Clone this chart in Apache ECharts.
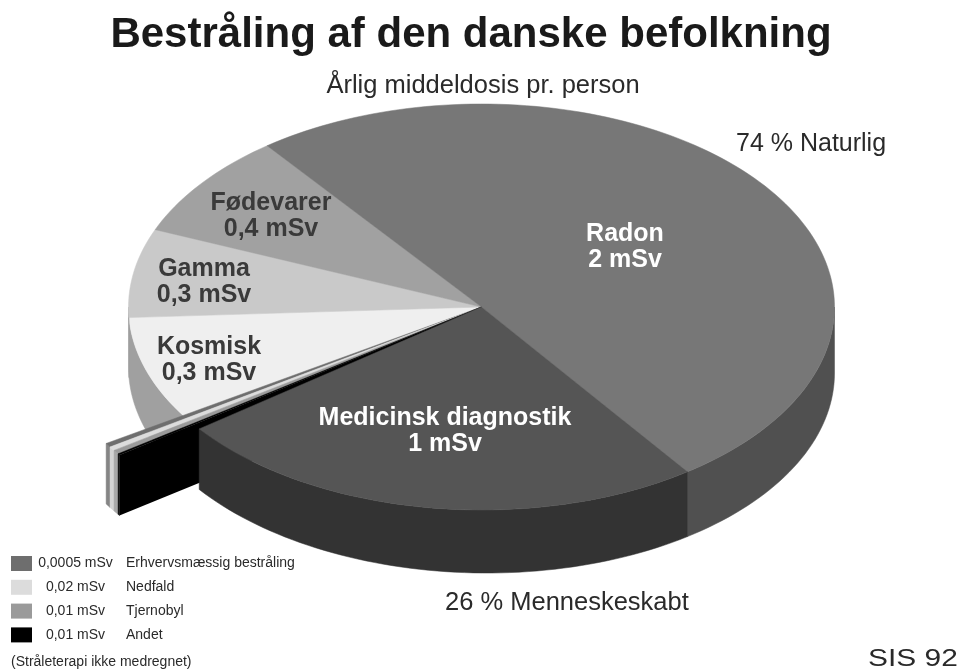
<!DOCTYPE html>
<html>
<head>
    <meta charset="utf-8">
    <title>Bestråling af den danske befolkning</title>
    <script src="https://cdn.jsdelivr.net/npm/echarts@6/dist/echarts.min.js"></script>
    <style>html, body { margin: 0; background: #fff; }</style>
</head>
<body>
    <div id="main" style="width:970px; height:670px;"></div>
    <script type="text/javascript">
    // Slices in drawing order, sweep = degrees
    var sliceNames = ['Kosmisk', 'Gamma', 'Fødevarer', 'Radon', 'Erhvervsmæssig bestråling', 'Nedfald', 'Tjernobyl', 'Andet', 'Medicinsk diagnostik'];
    var sliceSweeps = [29.3, 25.4, 30.2, 181.7, 0.93, 0.93, 0.93, 0.3, 88.8];
    var sliceDoses = ['0,3 mSv', '0,3 mSv', '0,4 mSv', '2 mSv', '0,0005 mSv', '0,02 mSv', '0,01 mSv', '0,01 mSv', '1 mSv'];
    var sliceColors = ['#efefef', '#c9c9c9', '#a1a1a1', '#777777', '#6e6e6e', '#dcdcdc', '#9a9a9a', '#000000', '#555555'];
    var wallColors = ['#a0a0a0', '#a0a0a0', '#a1a1a1', '#505050', '#858585', '#d4d4d4', '#a8a8a8', '#000000', '#333333'];
    var labelColors = ['#3a3a3a', '#3a3a3a', '#3a3a3a', '#ffffff', null, null, null, null, '#ffffff'];
    // Small slices pulled out of the pie, as a factor of the radius
    var sliceReach = [1, 1, 1, 1, 1.258, 1.258, 1.258, 1.258, 1];
    var legendNames = ['Erhvervsmæssig bestråling', 'Nedfald', 'Tjernobyl', 'Andet'];

    var CX = 481.5, CY = 307, RX = 353, RY = 203;
    var START_ANGLE = 147.7; // screen clockwise from east, where Kosmisk starts
    var labelPos = {
        'Kosmisk': [209, 360], 'Gamma': [204, 282], 'Fødevarer': [271, 216],
        'Radon': [625, 247], 'Medicinsk diagnostik': [445, 431]
    };

    // start angle of each slice. Slivers run backwards from where Kosmisk starts
    var starts = {};
    (function () {
        var a = START_ANGLE;
        ['Kosmisk', 'Gamma', 'Fødevarer', 'Radon'].forEach(function (n) {
            starts[n] = a;
            a += sliceSweeps[sliceNames.indexOf(n)];
        });
        starts['Medicinsk diagnostik'] = a - 360;
        a = START_ANGLE;
        ['Erhvervsmæssig bestråling', 'Nedfald', 'Tjernobyl', 'Andet'].forEach(function (n) {
            a -= sliceSweeps[sliceNames.indexOf(n)];
            starts[n] = a;
        });
    })();

    function rim(deg, reach, drop) {
        var r = deg * Math.PI / 180;
        return [CX + RX * reach * Math.cos(r), CY + RY * reach * Math.sin(r) + (drop || 0)];
    }
    function depth(deg) {
        return 60 + 3 * (Math.cos(deg * Math.PI / 180) + 1);
    }
    function arc(a0, a1, reach, dropped) {
        var pts = [], n = Math.max(2, Math.ceil(Math.abs(a1 - a0) / 1.5));
        for (var i = 0; i <= n; i++) {
            var a = a0 + (a1 - a0) * i / n;
            pts.push(rim(a, reach, dropped ? depth(a) : 0));
        }
        return pts;
    }
    // the part of [a0, a1] on the front half, where the wall can be seen
    function frontParts(a0, a1) {
        var parts = [];
        for (var k = -1; k <= 1; k++) {
            var lo = Math.max(a0, k * 360), hi = Math.min(a1, k * 360 + 180);
            if (hi > lo) parts.push([lo, hi]);
        }
        return parts;
    }

    function renderSlice(params, api) {
        var i = api.value(0);
        var a0 = starts[sliceNames[i]];
        var a1 = a0 + api.value(1);
        var reach = sliceReach[i];
        var kids = [];
        frontParts(a0, a1).forEach(function (p) {
            kids.push({
                type: 'polygon',
                shape: { points: arc(p[0], p[1], reach, false).concat(arc(p[1], p[0], reach, true)) },
                style: { fill: wallColors[i], stroke: wallColors[i], lineWidth: 0.5 }
            });
        });
        // Andet also shows its flat cut side below the pie
        if (sliceNames[i] === 'Andet') {
            kids.push({
                type: 'polygon',
                shape: { points: [[CX, CY], rim(a0, reach), rim(a0, reach, depth(a0)), [CX, CY + depth(a0)]] },
                style: { fill: wallColors[i] }
            });
        }
        kids.push({
            type: 'polygon',
            shape: { points: [[CX, CY]].concat(arc(a0, a1, reach, false)) },
            style: { fill: sliceColors[i], stroke: sliceColors[i], lineWidth: 0.5 }
        });
        var pos = labelPos[sliceNames[i]];
        if (pos) {
            kids.push({
                type: 'text',
                z2: 10,
                style: {
                    x: pos[0], y: pos[1],
                    text: sliceNames[i] + '\n' + sliceDoses[i],
                    fill: labelColors[i],
                    font: 'bold 25px "Liberation Sans", Arial, sans-serif',
                    lineHeight: 26,
                    align: 'center',
                    verticalAlign: 'middle'
                }
            });
        }
        return { type: 'group', children: kids };
    }

    var myChart = echarts.init(document.getElementById('main'));

    var series = sliceNames.map(function (name, i) {
        return {
            type: 'custom',
            name: name,
            coordinateSystem: 'none',
            animation: false,
            silent: true,
            itemStyle: { color: sliceColors[i] },
            renderItem: renderSlice,
            data: [[i, sliceSweeps[i]]]
        };
    });

    var option = {
        backgroundColor: '#ffffff',
        animation: false,
        title: [{
            text: 'Bestråling af den danske befolkning',
            left: 466, top: 9, textAlign: 'center',
            textStyle: { color: '#1a1a1a', fontFamily: '"Liberation Sans"', fontWeight: 'bold', fontSize: 42 }
        }, {
            text: 'Årlig middeldosis pr. person',
            left: 478, top: 68, textAlign: 'center',
            textStyle: { color: '#2a2a2a', fontFamily: '"Liberation Sans"', fontWeight: 'normal', fontSize: 25.5 }
        }, {
            text: '74 % Naturlig',
            left: 731, top: 127,
            textStyle: { color: '#2a2a2a', fontFamily: '"Liberation Sans"', fontWeight: 'normal', fontSize: 25 }
        }, {
            text: '26 % Menneskeskabt',
            left: 440, top: 585,
            textStyle: { color: '#2a2a2a', fontFamily: '"Liberation Sans"', fontWeight: 'normal', fontSize: 25.5 }
        }, {
            text: '(Stråleterapi ikke medregnet)',
            left: 6, top: 650,
            textStyle: { color: '#2a2a2a', fontFamily: '"Liberation Sans"', fontWeight: 'normal', fontSize: 14 }
        }],
        // the stamp in the corner is a stretched face
        graphic: [{
            type: 'text',
            x: 868, y: 648,
            scaleX: 1.3,
            style: { text: 'SIS 92', fill: '#2a2a2a', font: '23px "Liberation Sans"' }
        }],
        legend: {
            orient: 'vertical',
            left: 11,
            top: 556,
            padding: 0,
            itemWidth: 21,
            itemHeight: 15,
            itemGap: 8.8,
            icon: 'rect',
            selectedMode: false,
            data: legendNames,
            formatter: function (name) {
                return '{v|' + sliceDoses[sliceNames.indexOf(name)] + '}{n|' + name + '}';
            },
            textStyle: {
                rich: {
                    v: { width: 77, align: 'right', fontFamily: '"Liberation Sans"', fontSize: 14, color: '#2a2a2a' },
                    n: { padding: [0, 0, 0, 12], fontFamily: '"Liberation Sans"', fontSize: 14, color: '#2a2a2a' }
                }
            }
        },
        series: series
    };

    myChart.setOption(option);
    </script>
</body>
</html>
